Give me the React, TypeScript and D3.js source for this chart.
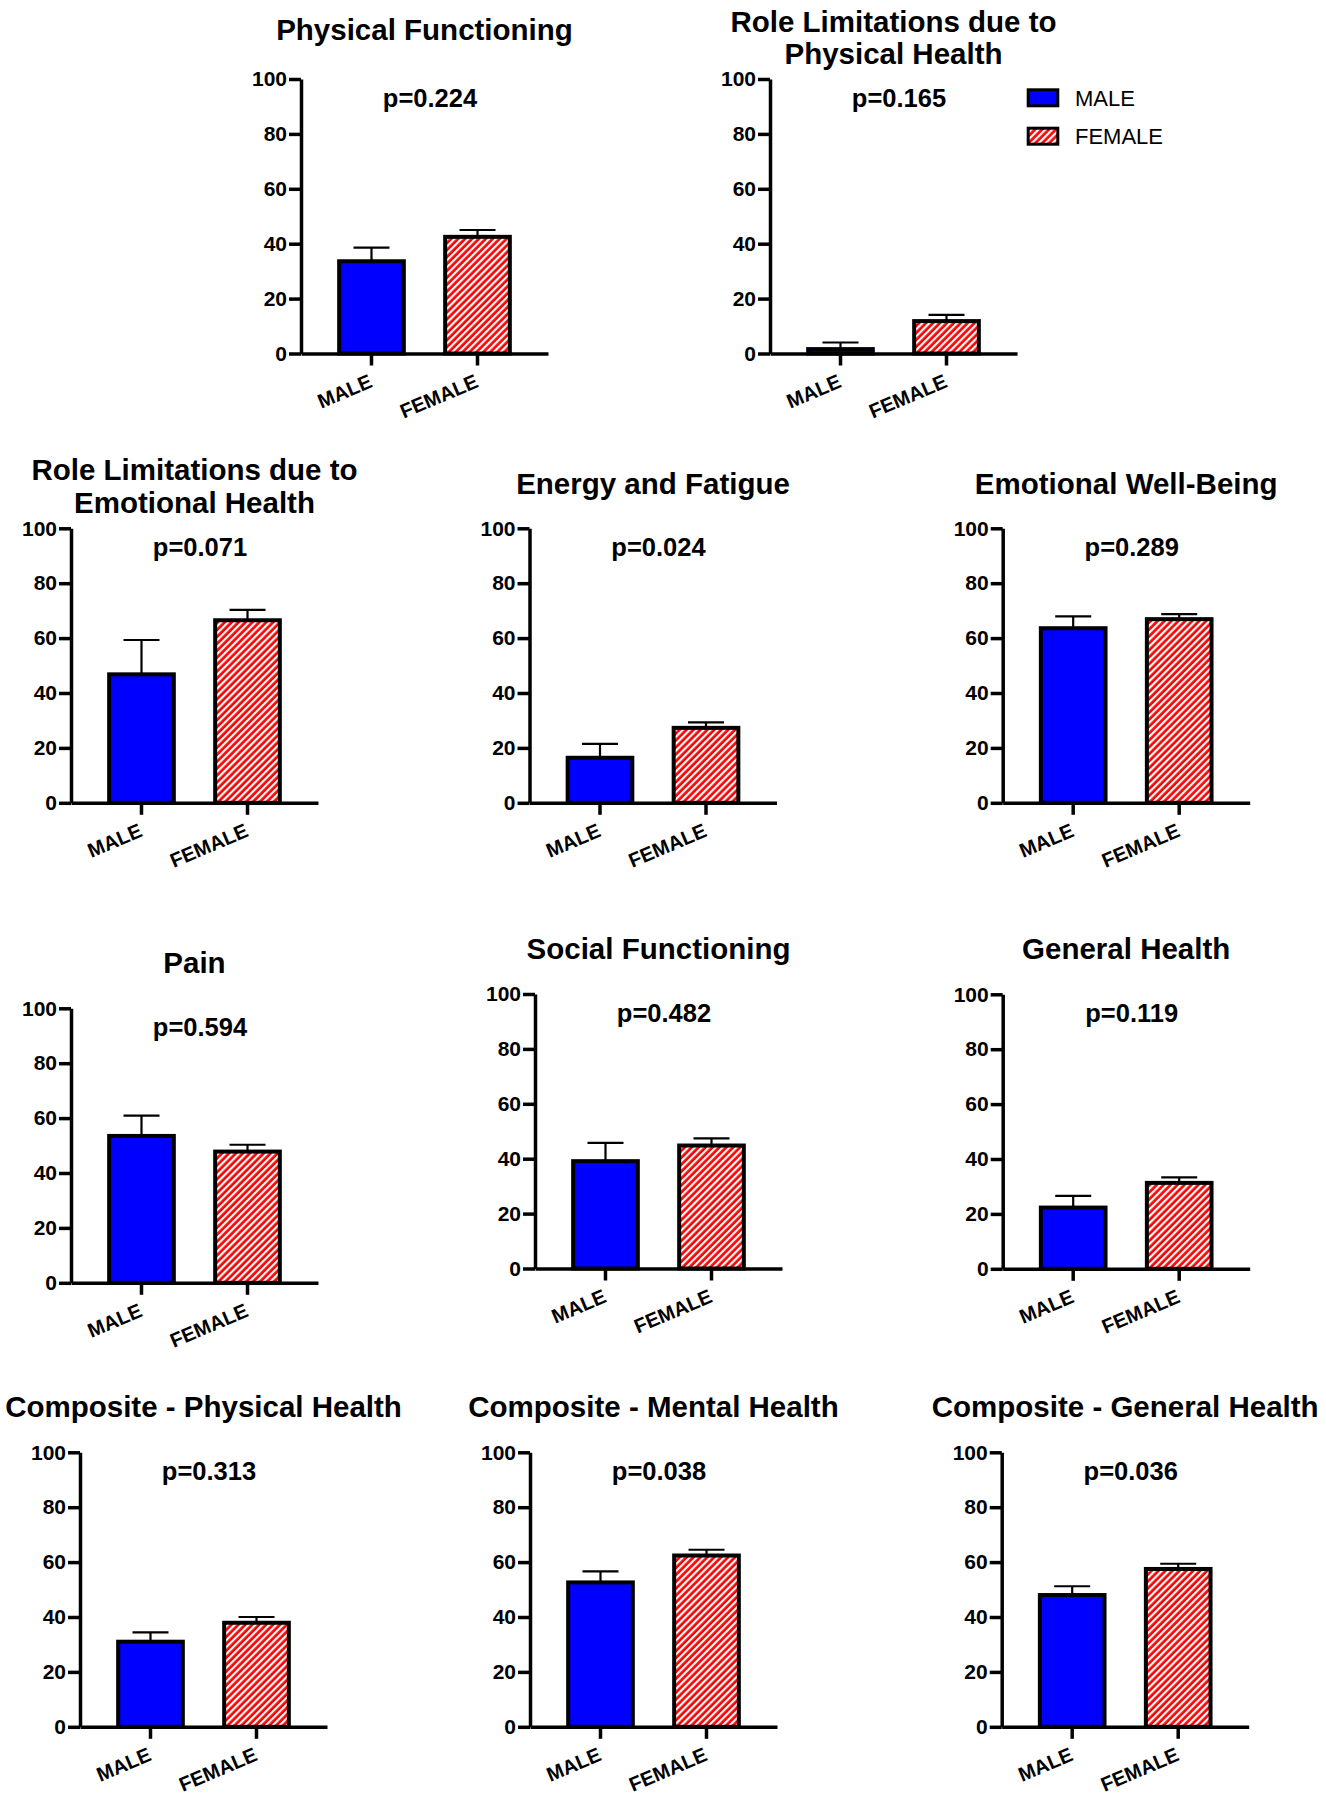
import React, { useEffect, useRef } from 'react';
import * as d3 from 'd3';

const categories = ['MALE', 'FEMALE'];
const yTicks = [0, 20, 40, 60, 80, 100];

const panelTitles: string[][] = [
  ['Physical Functioning'],
  ['Role Limitations due to', 'Physical Health'],
  ['Role Limitations due to', 'Emotional Health'],
  ['Energy and Fatigue'],
  ['Emotional Well-Being'],
  ['Pain'],
  ['Social Functioning'],
  ['General Health'],
  ['Composite - Physical Health'],
  ['Composite - Mental Health'],
  ['Composite - General Health'],
];

const pValues = ['p=0.224', 'p=0.165', 'p=0.071', 'p=0.024', 'p=0.289', 'p=0.594', 'p=0.482', 'p=0.119', 'p=0.313', 'p=0.038', 'p=0.036'];

const maleMeans = [33.6, 1.6, 46.8, 16.4, 63.6, 53.5, 39.1, 22.3, 31.0, 52.6, 48.0];
const maleSEM = [5.0, 2.4, 12.5, 5.1, 4.3, 7.4, 6.7, 4.3, 3.4, 4.0, 3.2];
const femaleMeans = [42.5, 11.8, 66.5, 27.3, 66.9, 47.8, 44.8, 31.3, 37.9, 62.4, 57.5];
const femaleSEM = [2.5, 2.3, 3.8, 2.0, 1.8, 2.5, 2.6, 2.0, 2.1, 2.1, 1.9];

const legendLabels = ['MALE', 'FEMALE'];

// layout (positions only)
const panelX = [301, 770, 71, 529.5, 1002.7, 71, 535, 1002.7, 80, 530, 1001.7];
const panelTop = [79, 79, 528.3, 528.3, 528.3, 1008.3, 994, 994.3, 1452.3, 1452.3, 1452.3];
const titleBaselines: number[][] = [
  [40], [31.7, 64.3], [480, 513.3], [494], [494], [973.3], [959.3], [959.3], [1417.3], [1417.3], [1417.3],
];

const W = 247;
const H = 274.5;
const FONT = '"Liberation Sans", Arial, Helvetica, sans-serif';
const BLUE = '#0000ff';
const RED = '#ff0000';

export default function App() {
  const ref = useRef<SVGSVGElement>(null);

  useEffect(() => {
    const svg = d3.select(ref.current);
    svg.selectAll('*').remove();

    const defs = svg.append('defs');
    const P = 4.9;
    const pat = defs
      .append('pattern')
      .attr('id', 'hatch')
      .attr('patternUnits', 'userSpaceOnUse')
      .attr('width', P)
      .attr('height', P)
      .attr('patternTransform', 'rotate(45)');
    pat.append('rect').attr('width', P).attr('height', P).attr('fill', RED);
    pat.append('rect').attr('x', 0).attr('width', 2.2).attr('height', P).attr('fill', '#ffffff');

    const fills = [BLUE, 'url(#hatch)'];

    panelTitles.forEach((lines, i) => {
      const x0 = panelX[i];
      const top = panelTop[i];
      const y = d3.scaleLinear().domain([0, 100]).range([H, 0]);
      const xs = d3.scaleBand<string>().domain(categories).range([0, W]).paddingInner(0.39).paddingOuter(0.36);

      // title
      lines.forEach((t, k) => {
        svg
          .append('text')
          .attr('x', x0 + W / 2)
          .attr('y', titleBaselines[i][k])
          .attr('text-anchor', 'middle')
          .attr('font-family', FONT)
          .attr('font-weight', 'bold')
          .attr('font-size', 29.5)
          .attr('fill', '#000')
          .text(t);
      });

      const g = svg.append('g').attr('transform', `translate(${x0},${top})`);

      // p value
      g.append('text')
        .attr('x', 129)
        .attr('y', 28)
        .attr('text-anchor', 'middle')
        .attr('font-family', FONT)
        .attr('font-weight', 'bold')
        .attr('font-size', 25.5)
        .attr('fill', '#000')
        .text(pValues[i]);

      const means = [maleMeans[i], femaleMeans[i]];
      const sems = [maleSEM[i], femaleSEM[i]];

      // error bars
      categories.forEach((c, j) => {
        const cx = (xs(c) as number) + xs.bandwidth() / 2;
        const yt = y(means[j] + sems[j]);
        g.append('line')
          .attr('x1', cx).attr('x2', cx)
          .attr('y1', y(means[j])).attr('y2', yt)
          .attr('stroke', '#000').attr('stroke-width', 2.2);
        g.append('line')
          .attr('x1', cx - 18).attr('x2', cx + 18)
          .attr('y1', yt).attr('y2', yt)
          .attr('stroke', '#000').attr('stroke-width', 2.2);
      });

      // bars
      categories.forEach((c, j) => {
        g.append('rect')
          .attr('x', xs(c) as number)
          .attr('y', y(means[j]))
          .attr('width', xs.bandwidth())
          .attr('height', H - y(means[j]))
          .attr('fill', fills[j])
          .attr('stroke', '#000')
          .attr('stroke-width', 4);
      });

      // y axis
      const ya = g.append('g').call(d3.axisLeft(y).tickValues(yTicks).tickSize(12).tickSizeOuter(0).tickPadding(2));
      ya.select('.domain').attr('stroke', '#000').attr('stroke-width', 3.5);
      ya.selectAll('.tick line').attr('stroke', '#000').attr('stroke-width', 3.5);
      ya.selectAll('.tick text')
        .attr('font-family', FONT)
        .attr('font-weight', 'bold')
        .attr('font-size', 21)
        .attr('fill', '#000');

      // x axis
      const xa = g
        .append('g')
        .attr('transform', `translate(0,${H})`)
        .call(d3.axisBottom(xs).tickSize(12).tickSizeOuter(0));
      xa.select('.domain').attr('stroke', '#000').attr('stroke-width', 3.5);
      xa.selectAll('.tick line').attr('stroke', '#000').attr('stroke-width', 3.5);
      xa.selectAll('.tick text')
        .attr('x', 0)
        .attr('y', 0)
        .attr('dy', 0)
        .attr('transform', 'translate(2,33) rotate(-23)')
        .attr('text-anchor', 'end')
        .attr('font-family', FONT)
        .attr('font-weight', 'bold')
        .attr('font-size', 20)
        .attr('fill', '#000');
    });

    // legend
    const lg = svg.append('g').attr('transform', 'translate(1028.2,89.8)');
    legendLabels.forEach((lab, j) => {
      lg.append('rect')
        .attr('x', 0)
        .attr('y', j * 38.4)
        .attr('width', 29.6)
        .attr('height', 16)
        .attr('fill', fills[j])
        .attr('stroke', '#000')
        .attr('stroke-width', 3);
      lg.append('text')
        .attr('x', 46.8)
        .attr('y', j * 38.4 + 16)
        .attr('font-family', FONT)
        .attr('font-size', 22)
        .attr('fill', '#000')
        .text(lab);
    });
  }, []);

  return (
    <svg
      ref={ref}
      width={1326}
      height={1800}
      style={{ position: 'absolute', left: 0, top: 0, background: '#fff' }}
    />
  );
}
